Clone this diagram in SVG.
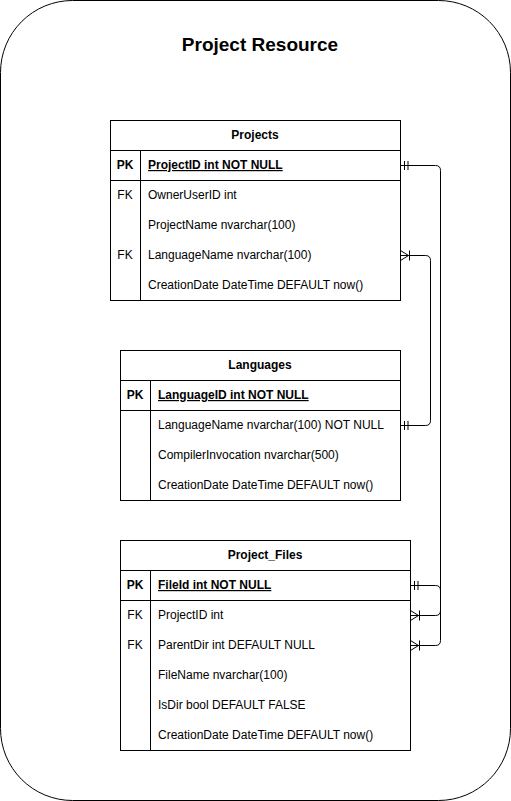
<svg xmlns="http://www.w3.org/2000/svg" width="511" height="801" viewBox="0 0 511 801">
<style>
  text { font-family: "Liberation Sans", Arial, sans-serif; font-size: 12px; fill: #000; }
  .hdr { font-weight: bold; text-anchor: middle; }
  .key { text-anchor: middle; }
  .pk { font-weight: bold; }
  .u { text-decoration: underline; }
  .box { fill: #fff; stroke: #000; stroke-width: 1; }
  .ln { fill: none; stroke: #000; stroke-width: 1; }
  .conn { fill: none; stroke: #000; stroke-width: 1; }
  .title { font-size: 19px; font-weight: bold; text-anchor: middle; }
</style>
<defs>
  <marker id="one" markerUnits="userSpaceOnUse" orient="auto-start-reverse" markerWidth="20" markerHeight="20" refX="0" refY="0" viewBox="-15 -10 20 20" overflow="visible">
    <path d="M-4,-4.5 V4.5 M-7.5,-4.5 V4.5" fill="none" stroke="#000" stroke-width="1"/>
  </marker>
  <marker id="many" markerUnits="userSpaceOnUse" orient="auto-start-reverse" markerWidth="20" markerHeight="20" refX="0" refY="0" viewBox="-15 -10 20 20" overflow="visible">
    <path d="M0,-5 L-8,0 L0,5 M-9,-5 V5" fill="none" stroke="#000" stroke-width="1"/>
  </marker>
</defs>
<rect x="0.5" y="0.5" width="510" height="800" rx="72" ry="72" class="box"/>
<text x="260" y="51" class="title">Project Resource</text>

<g id="projects">
  <rect x="110.5" y="120.5" width="290" height="180" class="box"/>
  <path d="M110.5,150.5 H400.5 M110.5,180.5 H400.5 M140.5,150.5 V300.5" class="ln"/>
  <text x="255" y="139" class="hdr">Projects</text>
  <text x="125" y="169" class="key pk">PK</text>
  <text x="148" y="169" class="pk u">ProjectID int NOT NULL</text>
  <text x="125" y="199" class="key">FK</text>
  <text x="148" y="199">OwnerUserID int</text>
  <text x="148" y="229">ProjectName nvarchar(100)</text>
  <text x="125" y="259" class="key">FK</text>
  <text x="148" y="259">LanguageName nvarchar(100)</text>
  <text x="148" y="289">CreationDate DateTime DEFAULT now()</text>
</g>

<g id="languages">
  <rect x="120.5" y="350.5" width="280" height="150" class="box"/>
  <path d="M120.5,380.5 H400.5 M120.5,410.5 H400.5 M150.5,380.5 V500.5" class="ln"/>
  <text x="260" y="369" class="hdr">Languages</text>
  <text x="135" y="399" class="key pk">PK</text>
  <text x="158" y="399" class="pk u">LanguageID int NOT NULL</text>
  <text x="158" y="429">LanguageName nvarchar(100) NOT NULL</text>
  <text x="158" y="459">CompilerInvocation nvarchar(500)</text>
  <text x="158" y="489">CreationDate DateTime DEFAULT now()</text>
</g>

<g id="project_files">
  <rect x="120.5" y="540.5" width="290" height="210" class="box"/>
  <path d="M120.5,570.5 H410.5 M120.5,600.5 H410.5 M150.5,570.5 V750.5" class="ln"/>
  <text x="265" y="559" class="hdr">Project_Files</text>
  <text x="135" y="589" class="key pk">PK</text>
  <text x="158" y="589" class="pk u">FileId int NOT NULL</text>
  <text x="135" y="619" class="key">FK</text>
  <text x="158" y="619">ProjectID int</text>
  <text x="135" y="649" class="key">FK</text>
  <text x="158" y="649">ParentDir int DEFAULT NULL</text>
  <text x="158" y="679">FileName nvarchar(100)</text>
  <text x="158" y="709">IsDir bool DEFAULT FALSE</text>
  <text x="158" y="739">CreationDate DateTime DEFAULT now()</text>
</g>

<g id="connectors">
  <path class="conn" d="M400.5,165.5 H435.5 Q440.5,165.5 440.5,170.5 V610.5 Q440.5,615.5 435.5,615.5 H410.5" marker-start="url(#one)" marker-end="url(#many)"/>
  <path class="conn" d="M400.5,255.5 H425.5 Q430.5,255.5 430.5,260.5 V420.5 Q430.5,425.5 425.5,425.5 H400.5" marker-start="url(#many)" marker-end="url(#one)"/>
  <path class="conn" d="M410.5,585.5 H435.5 Q440.5,585.5 440.5,590.5 V640.5 Q440.5,645.5 435.5,645.5 H410.5" marker-start="url(#one)" marker-end="url(#many)"/>
</g>
</svg>
